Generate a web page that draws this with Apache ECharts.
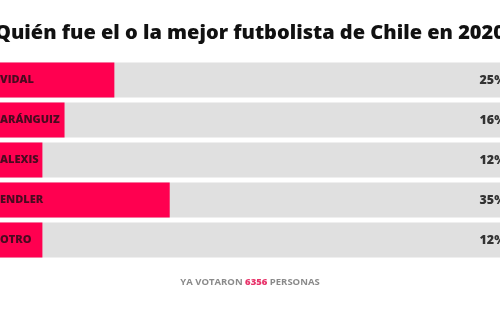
<!DOCTYPE html>
<html><head><meta charset="utf-8">
<script src="https://cdn.jsdelivr.net/npm/echarts@6/dist/echarts.min.js"></script>
<style>html,body{margin:0;padding:0;background:#fff;}#c{width:500px;height:310px;}</style>
</head><body><div id="c"></div>
<script>
const titleText = "¿Quién fue el o la mejor futbolista de Chile en 2020?";
const categories = ["VIDAL", "ARÁNGUIZ", "ALEXIS", "ENDLER", "OTRO"];
const values = [25, 16, 12, 35, 12];
const totalVotes = "6356";
const fullScale = 100;
// visible window of the (cropped) value axis
const axisMin = 4.34;
const axisMax = 94.67;

const chart = echarts.init(document.getElementById('c'), null, {renderer: 'canvas'});
chart.setOption({
  backgroundColor: '#fff',
  animation: false,
  title: {
    text: titleText,
    left: 'center', top: 18,
    textStyle: {fontFamily: 'Open Sans', fontWeight: 800, fontSize: 20, color: '#111'}
  },
  graphic: [{
    type: 'text', left: 'center', top: 277,
    style: {
      text: '{g|YA VOTARON }{p|' + totalVotes + '}{g| PERSONAS}',
      rich: {
        g: {fontFamily: 'Open Sans', fontWeight: 700, fontSize: 9.5, fill: '#8a8a8a', letterSpacing: 1.3},
        p: {fontFamily: 'Open Sans', fontWeight: 800, fontSize: 9.5, fill: '#e8336a', letterSpacing: 1.3}
      }
    }
  }],
  grid: {left: 0, right: 0, top: 60, height: 200},
  xAxis: {type: 'value', min: axisMin, max: axisMax, show: false},
  yAxis: {type: 'category', data: categories, inverse: true, show: false},
  series: [
    {
      type: 'bar', data: categories.map(() => fullScale), barWidth: 35, barGap: '-100%',
      itemStyle: {color: '#e0e0e0'}, silent: true, clip: true,
      label: {
        show: true, position: 'insideRight', distance: 0, offset: [6, 0],
        formatter: p => values[p.dataIndex] + '%',
        fontFamily: 'Open Sans', fontWeight: 800, fontSize: 12.5, color: '#333'
      }
    },
    {
      type: 'bar', data: values, barWidth: 35, barGap: '-100%', z: 3, clip: true,
      itemStyle: {color: '#ff0050'},
      label: {
        show: true, position: 'insideLeft', distance: 0, offset: [-2, 0],
        formatter: p => categories[p.dataIndex],
        fontFamily: 'Open Sans', fontWeight: 800, fontSize: 11, color: '#4a0a20', letterSpacing: 1.2
      },
      labelLayout: {hideOverlap: false}
    }
  ]
});
</script></body></html>
